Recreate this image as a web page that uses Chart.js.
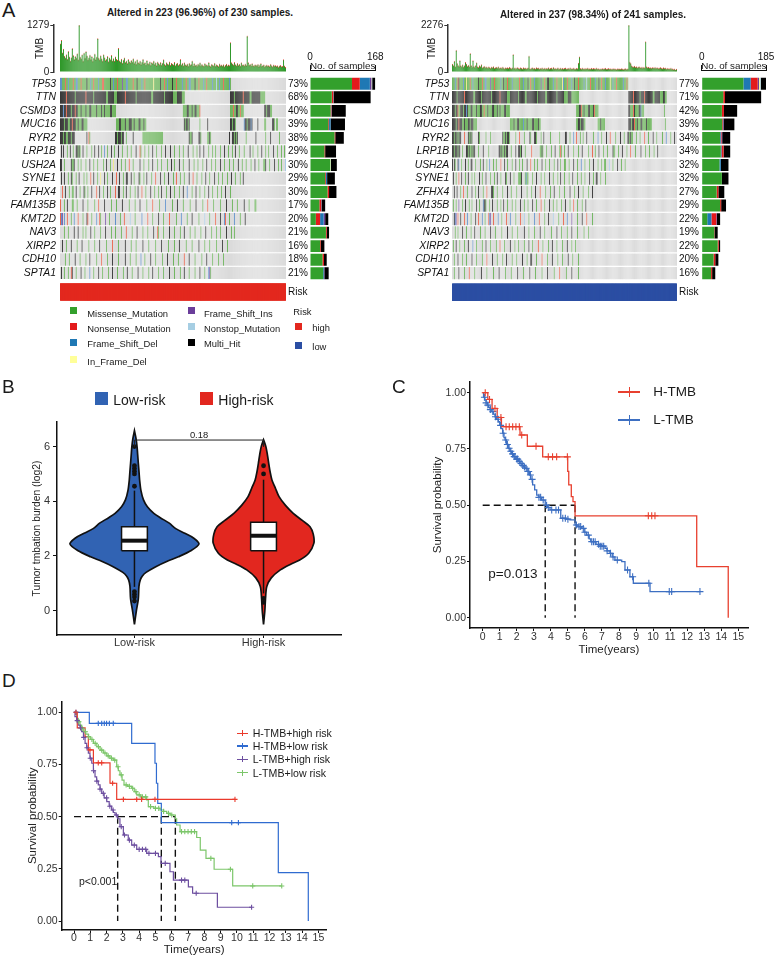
<!DOCTYPE html>
<html>
<head>
<meta charset="utf-8">
<title>TMB and risk</title>
<script src="https://cdn.jsdelivr.net/npm/chart.js@4.4.1/dist/chart.umd.min.js"></script>
<style>
  body { margin: 0; background: #fff; }
  #page { position: relative; width: 777px; height: 958px; overflow: hidden; font-family: "Liberation Sans", Arial, sans-serif; color: #1a1a1a; }
  #page canvas { position: absolute; }
  .t { position: absolute; white-space: nowrap; line-height: 1; }
  .sq { position: absolute; }
</style>
</head>
<body>
<div id="page"></div>
<script>
// ---------- panel A data ----------
const genes = ['TP53', 'TTN', 'CSMD3', 'MUC16', 'RYR2', 'LRP1B', 'USH2A', 'SYNE1', 'ZFHX4', 'FAM135B', 'KMT2D', 'NAV3', 'XIRP2', 'CDH10', 'SPTA1'];
const leftPct = ['73%', '68%', '40%', '39%', '38%', '29%', '30%', '29%', '30%', '17%', '20%', '21%', '16%', '18%', '21%'];
const rightPct = ['77%', '71%', '42%', '39%', '34%', '34%', '32%', '32%', '27%', '29%', '22%', '19%', '22%', '20%', '16%'];

// TMB per sample (same order as the matrix columns)
const leftTmb = [
  760, 860, 520, 620, 430, 380, 470, 350, 560, 410, 300, 390, 640, 450, 340, 420, 380, 500, 330, 1279,
  410, 360, 470, 300, 520, 380, 560, 440, 330, 390, 460, 350, 420, 300, 380, 490, 340, 410, 910, 380,
  330, 440, 360, 300, 470, 390, 310, 350, 420, 280, 380, 330, 450, 300, 360, 290, 410, 340, 310, 640,
  300, 270, 350, 240, 320, 380, 260, 300, 230, 340, 280, 250, 310, 270, 360, 240, 290, 220, 330, 260,
  240, 300, 210, 270, 350, 230, 260, 200, 310, 240, 220, 280, 190, 260, 230, 300, 210, 250, 180, 270,
  230, 200, 260, 190, 240, 330, 210, 180, 250, 220, 200, 270, 180, 230, 210, 190, 260, 170, 220, 240,
  180, 210, 340, 190, 230, 170, 250, 200, 180, 220, 160, 240, 190, 210, 300, 170, 230, 180, 200, 160,
  220, 190, 250, 170, 210, 180, 160, 230, 190, 200, 170, 260, 180, 150, 210, 190, 170, 240, 160, 200,
  180, 150, 220, 170, 190, 160, 200, 140, 180, 210, 160, 190, 170, 795, 250, 220, 190, 260, 200, 170,
  230, 180, 210, 160, 250, 190, 200, 170, 220, 180, 977, 260, 190, 210, 170, 230, 180, 160, 200, 190,
  170, 210, 150, 190, 230, 160, 180, 200, 140, 170, 190, 160, 180, 150, 210, 170, 140, 190, 160, 180,
  150, 170, 130, 160, 180, 140, 150, 330, 160, 120
];
const rightTmb = [
  380, 300, 520, 260, 1057, 420, 330, 280, 560, 310, 260, 350, 240, 300, 460, 380, 270, 330, 250, 895,
  310, 240, 560, 280, 230, 320, 450, 260, 220, 300, 250, 350, 210, 240, 280, 200, 260, 230, 190, 250,
  220, 180, 240, 200, 260, 170, 210, 230, 190, 250, 180, 200, 220, 170, 240, 190, 160, 210, 180, 200,
  170, 230, 190, 160, 210, 845, 180, 200, 150, 190, 220, 170, 160, 200, 180, 150, 210, 170, 190, 160,
  180, 200, 780, 170, 150, 190, 210, 160, 180, 140, 200, 170, 190, 150, 180, 160, 210, 140, 170, 190,
  150, 180, 160, 200, 140, 170, 190, 150, 220, 160, 180, 140, 170, 200, 150, 160, 190, 140, 180, 150,
  170, 190, 140, 160, 180, 150, 200, 140, 170, 160, 190, 150, 140, 180, 160, 420, 730, 170, 150, 190,
  160, 140, 180, 150, 170, 190, 140, 160, 150, 180, 140, 170, 160, 150, 190, 140, 170, 150, 130, 160,
  150, 170, 140, 160, 180, 130, 150, 170, 140, 160, 150, 130, 170, 140, 160, 150, 120, 160, 140, 150,
  130, 160, 140, 120, 150, 170, 130, 140, 160, 2276, 490, 420, 300, 260, 240, 280, 220, 250, 210, 240,
  260, 220, 200, 240, 190, 230, 210, 1463, 250, 200, 230, 190, 210, 180, 220, 200, 190, 230, 180, 200,
  210, 170, 190, 220, 180, 160, 200, 170, 190, 150, 180, 160, 170, 140, 190, 150, 160, 120, 140, 90, 130
];

// mutation matrix rows, run-length coded: M missense, N nonsense, D frame-shift del,
// I frame-shift ins, F in-frame del, S nonstop, X multi-hit, . none
const leftRows = [
  'D2 M3 N1 M2 D1 M4 N1 M2 D2 M3 N1 M5 X1 M3 D1 M2 N1 M4 D1 M3 N2 M6 X1 M2 D1 M3 N1 M4 I1 M3 D2 M5 N1 M3 X1 M4 D1 M2 N1 M8 F1 M6 X1 M3 N1 M2 D1 M4 X1 M3 N1 M5 D1 M3 N1 M2 D2 M4 X1 M3 N1 M4 D1 M2 N1 M5 D1 M3 S1 M2 D1 M3 N1 M2 M3 D1 M1',
  'X6 N1 X8 M1 X10 N1 X7 M1 X12 M2 X6 M3 X8 N1 X10 M1 X6 X9 M2 X11 M1 X8 M4 X5 M3 .46 X4 M1 X8 N1 X6 M2 X9 M5',
  'X3 D1 X2 N1 X4 M1 X3 N1 X2 M3 X1 M4 X1 M3 X2 M5 X1 M4 X1 M2 X1 M5 X2 M4 .68 M4 X2 M3 X1 M2 X2 M3 N1 .30 M3 N1 M2 X2 M2 N1 M3 .21 X2 M1 X3 M2',
  'X4 M1 X3 M2 X2 N1 X3 M2 X1 M3 X2 M4 .29 M3 X2 M4 X1 M3 X3 M2 X1 M4 X2 M3 X1 M2 .38 X1 M1 X2 M1 X1 .10 M1 .7 X1 .22 X2 M1 X2 M1 .8 D1 X2 M1 X3 D1 X1 .5 X1 .6 M2 .6 X2 M1 .1 M2 .8',
  'X3 M1 X2 M2 X3 M1 X3 .12 X1 .1 N1 M1 .25 X2 M1 X3 M1 X2 .2 M1 .6 X1 .9 M21 .26 X1 M2 X1 .6 X2 M1 .6 M2 X1 M1 .18 X1 .2 X2 M1 X1 M1 X1 .8 M1 .9 X1 .9 M1 .4 X1 .8 M1 .5',
  '.1 X1 .1 X1 .3 M1 .2 X1 .2 M1 .2 X2 M1 X1 M1 .2 X1 .3 M1 .4 M1 .2 X1 .3 X1 .2 M1 .2 D1 .2 M1 .3 X1 .2 M1 .3 X1 .3 M1 .4 M1 .3 M1 .4 X1 .3 N1 M1 .3 M1 .3 M1 .3 X1 .3 M1 .4 M1 .3 X1 .4 X1 .3 M1 .4 M1 .3 M1 .4 X1 .4 M1 .3 M1 .2 X1 .3 X1 .4 M1 .3 M1 .2 M1 .4 M1 .3 X1 .3 M1 .3 M1 .2 X1 .3 M1 .4 M1 .5 X1 .2 M1 .4 M1 .3 X1 .3 M1 .2 M1 .4 X1 .3 M1 .3 M1 .2 M1',
  'X2 .2 M1 .6 X1 M2 X1 .3 M1 .2 M1 .4 M1 .3 X1 .3 M1 .3 M1 .5 M1 .2 X1 .3 M1 .2 F1 .3 X1 .3 M1 .3 M1 .3 N1 .3 M1 .6 X1 .3 M1 .4 M1 .3 X1 .4 M1 .3 M1 .5 M1 .3 X1 .2 M1 .4 X1 .3 M1 .5 X1 .4 M1 .3 M1 .4 M1 .3 X1 .4 M1 .3 M1 .4 X1 .3 M1 .4 M1 .3 M1 .4 X1 .3 M1 .3 M1 .4 M1 .3 X1 .3 M1 .4 M2 X1 .3 M1 .4 X1 .3 M1 .2 M1 .3 S1 M1 X1',
  '.1 X1 .2 X1 .3 M1 .2 X1 M1 .3 M1 .2 X1 .4 M1 .2 M1 .3 N1 .2 X1 .3 M1 .2 F1 .3 X1 .2 M1 .4 X1 .3 N1 .2 X1 .3 M1 .2 X2 .3 X1 .2 M1 .4 X1 M1 .3 M1 .2 X1 .4 M1 .3 N1 .4 X1 .3 M1 .3 X1 .4 M1 .2 N1 .3 M1 .3 M1 .4 X1 .3 N1 .3 M1 .4 M1 .3 X1 .3 M1 .4 X1 .3 M1 .3 M1 .4 M1 .3 X1 .3 M1 .4 M1 .2 X1 .3',
  '.2 N1 .2 X1 .3 M1 .2 M2 .2 X1 .3 M1 .3 X1 M1 .2 M1 .3 X1 .4 N1 .2 X1 .3 M1 .3 X1 .2 M1 .4 N1 .2 X2 .3 M1 .2 X1 .3 M1 .4 M1 .2 X1 .3 N1 .3 M1 .4 X1 .3 M1 .3 M1 .2 X1 .4 M1 .3 X1 .3 M1 .4 M1 .3 X1 .3 D1 .4 M1 .3 X1 .3 M1 .4 M1 .3 X1 .3 M1 .4 M1 .3 M1 .3 X1 .4 M1 .3',
  'N1 .3 M1 .2 X1 .4 M2 .3 M1 .5 X1 .4 M1 .6 M1 .3 N1 .5 X1 .6 M1 .4 M1 .5 X1 .6 M1 .5 M1 .4 X1 .6 M1 .5 N1 .6 M1 .5 D1 .6 M1 .4 X1 .5 M1 .6 M1 .5 X1 .6 M1 .4 N1 .5 M1 .6 M1 .5 X1 .5 M1 .4 M1 .6 X1 .4 M1 .5 M2',
  'N1 D1 I1 .1 D1 .2 N1 .3 M1 .2 D1 .3 N1 .4 M1 .3 X1 N1 .3 M1 .4 D1 .2 N1 M1 .4 I1 .3 M1 .5 D1 .4 M1 .3 N1 .5 S1 .4 M1 .6 D1 .5 N1 .4 M1 .5 X1 .4 M1 .5 N1 .6 M1 .4 D1 .5 M1 .4 X1 .6 M1 .5 S1 .4 M1 .5 N1 .4 X1 .3 D1 N1 .3 M1 .4 D1 .5 M1 .4 X1',
  '.4 M1 .3 M1 .5 X1 .3 X1 .4 M1 .2 M1 .4 X1 .3 M1 .5 M1 .4 X1 .5 M1 .3 M1 .5 M1 .4 N1 .5 M1 .4 X1 .5 M1 .4 M1 .5 X1 .3 N1 M1 .4 M1 .5 X1 .4 M1 .5 M1 .3 X1 .5 M1 .4 M1 .5 M1 .4 X1 .5 M1 .4 M1 .3 M1 .5 X1 .4 M1 .2 M1',
  '.2 X1 .3 M1 .4 X1 .5 M1 .4 X1 .6 M1 .5 M1 .4 X1 .6 M1 .5 N1 .5 M1 .6 X1 .5 M1 .4 M1 .6 X1 .5 M1 .6 M1 .5 X1 .6 M1 .5 M1 .4 X1 .6 M1 .5 M1 .6 X1 .5 M1 .4 M1 .6 M1 .5 X1 .4 M1',
  '.5 M1 .3 M1 .5 X1 .4 M1 .5 M1 .3 X1 .6 M1 .4 N1 .5 M1 .4 X1 .5 M1 .6 X1 .4 M1 .5 M1 .4 D1 .3 M1 .5 X1 .4 M1 .6 M1 .4 X1 .5 M1 .4 M1 .5 N1 .4 X1 .5 M1 .6 M1 .4 X1 .5 M1 .5 M1 .4 M1',
  '.1 X1 .2 M1 .3 M1 .2 N1 X1 .3 M1 .4 X1 .3 M1 .4 D1 .3 M1 .4 X1 .3 M1 .5 M1 .3 X1 .4 M1 .5 M1 .3 X1 .4 M1 .5 X1 .4 M1 .5 M1 .3 X1 .5 M1 .4 M1 .5 X1 .4 M1 .5 M1 .3 X1 .4 M1 .5 M1 .4 X1 .4 M1 .3 D1 I1 M1'
];
const rightRows = [
  'M3 D1 M2 N1 X1 M4 D1 M2 F1 M3 N1 M2 D1 M5 X1 M3 N1 M2 D2 M4 I1 M3 N1 M6 D1 M2 X1 M3 N1 M4 D1 M2 M5 N1 M3 D1 M4 X1 M2 N1 M3 D1 M6 I1 M3 N1 M2 X2 M4 D1 M3 N1 M5 F1 D1 M3 N1 M4 D1 M2 X1 M3 N1 M5 D1 M2 S1 M3 N1 M4 D1 M3 X1 M2 N1 M3 D1 M4 F1 M2 D1 M3 N1 M2 M4 D1 M3 N1 M1',
  'X5 M1 X7 N1 X9 M2 X6 M1 X10 M1 X8 N1 X7 M3 X9 M1 X6 M2 X11 M1 X8 M2 X10 M1 X7 M4 X4 M2 M6 .53 X5 N1 X6 M1 X4 N1 X8 M2 X6 M3 X2 M2',
  'X3 M1 X2 N1 M2 X3 M1 X2 D1 X1 M3 X2 M4 X1 M3 X2 M2 N1 M3 X1 M4 X2 M3 X1 M2 X1 M4 X2 M4 .71 M3 X2 N1 M2 X1 M4 X2 M3 X1 N1 M4 .32 X2 M3 N1 X1 M4 X2 D1 M3 .21 M1 .12',
  'X4 M1 X2 N1 X3 M2 X1 M3 X2 M1 X3 M4 .35 M4 X1 M3 X2 M4 D1 M3 X1 M5 X2 M4 X1 M2 .38 M2 X2 M1 X3 M2 .13 M3 X1 M4 .25 X3 M1 X2 N1 M2 X1 M3 X2 M4 X1 M3 M2 .14 M1 .12',
  'X2 M1 X2 M1 X1 M1 X2 .3 N1 .3 X1 M1 X1 M1 X1 .6 X1 M1 .6 M1 .4 M1 .12 X1 M2 X1 M1 X2 M1 .6 M1 .3 N1 .4 M1 .5 X1 M1 .3 X2 M1 .4 M1 .2 X1 .6 M1 .9 M1 .5 X2 .3 M1 .3 D1 .2 N1 .3 M1 .2 M1 .3 X1 .6 M1 .4 D1 .3 M1 .4 X1 .3 N1 .5 M1 .4 X1 .3 M1 .3 X2 M1 X1 M2 .3 M1 .3 M1 .4 N1 .3 M1 .4 X1 .3 M1 .5 M1 .3 D1 .4 M1 .3 X1 .4 M1 .5 M1 .3',
  'X2 M1 X3 M1 X2 .2 M1 .3 X2 M1 X1 M2 X1 M1 X2 .3 M1 .4 X1 .5 M1 .10 X2 M1 X1 M2 X1 M1 X2 .3 M1 .4 X1 .2 X2 M1 X1 .3 M1 .6 N1 .8 M2 X1 M1 .3 M1 .4 M1 .3 X1 .4 M1 N1 M1 .2 M1 .3 X1 .5 M1 .4 M1 .3 X1 .6 M1 .3 N1 .2 M1 .3 X1 .4 M1 .3 M1 .5 X1 M2 .3 M1 .3 X1 .4 M1 .3 N1 .4 M1 .5 X1 .4 M1 .3 M1 .4 M1 .3 X1 .2',
  'X1 .1 X1 M1 .2 X1 D1 .2 M1 .3 X1 .2 M1 .2 X2 .3 M1 .4 M1 .2 X1 .3 M1 .2 D1 .3 M1 .2 M1 .4 N1 .3 X1 .2 M1 .4 M1 .3 X1 .3 M1 .2 M1 .4 X1 .3 N1 .3 M1 .2 M1 .4 X1 .3 M1 .3 M1 .4 M1 .3 X1 .2 M1 .3 M2 .3 M1 .4 X1 .3 M1 .3 D1 .3 M1 .4 M1 .3 X1 .4 M1 .3 M1 .2 M2 .3 S1 .3 M1 .4 X1 .3 M1 .3 M1 .2',
  '.1 X1 .2 M1 .2 N1 .2 X1 .3 M1 .2 X1 .3 M1 .2 M1 .4 X1 .2 M1 .3 X1 .4 M1 .3 M1 .2 X1 .3 M1 .4 X1 M1 .3 X1 .3 M1 .4 M1 M2 X1 .3 M1 D1 M2 .4 M1 .3 X1 .4 M1 .3 M1 .4 X1 .3 M1 .4 M1 .2 X1 .3 M1 .4 M1 .3 X1 .4 M1 .3 M1 .3 M1 .4 X1 .3 M1 .2 X2 .3 M1 .4 M1 .3',
  '.2 X1 .2 X1 .3 M1 .2 N1 .3 M1 .4 X1 .3 M1 .2 X1 .4 M1 .3 N1 .4 X2 M1 .3 M1 .5 M1 .4 X1 .3 M1 .5 M1 .4 X1 .5 M1 .4 M1 .3 X1 .4 N1 .5 M1 .4 M1 .3 X1 .5 M1 .4 M1 .5 X1 .4 M1 .3 X1 .4 M1 .5 M1 .3 X1 .4',
  '.1 M1 .2 M1 .2 I1 .3 M1 .2 X1 .3 M1 .2 M1 .4 X1 .2 M1 .3 D1 X2 M1 .3 M1 .2 X1 .4 M1 .3 M1 .2 X1 .3 M1 .4 M1 .3 M1 .4 X1 .3 M1 .3 M1 .4 X1 .3 M1 .4 N1 .3 M1 .4 X1 .3 M1 .3 M1 .4 M1 .3 X1 .4 M1 .3 N1 .3 M1 .4 M1 .3 X1 .3',
  '.2 X1 D1 I1 .1 N1 .2 X1 .3 N1 .2 D1 .3 M1 .4 X1 .2 N1 .3 D1 .2 M1 .3 N1 D1 I1 .2 N1 .4 D1 .3 M1 .4 N1 .3 D1 .5 M1 .4 N1 .3 S1 .4 M1 .5 D1 .4 N1 .5 M1 .3 X1 .4 S1 .5 M1 .4 N1 .3 D1 .4 I1 .5 M1 .4 X1 .4 N1 .5 M1',
  '.3 M1 .2 M1 .4 X1 .3 M1 .4 M1 .3 X1 .5 M1 .4 M1 .5 X1 .4 M1 .6 M1 .5 X1 .4 M1 .5 M1 .6 X1 .4 M1 .5 M1 .5 X1 .4 M1 .6 M1 .5 X1 .4 M1 .5 M1 .4 X1 .5 M1 .6 M1 .4 M1',
  '.1 M1 .2 X1 .3 M1 .4 M1 .3 X1 .4 D1 .3 M1 .5 M1 .3 X1 .4 M1 .5 M1 .3 N1 .4 M1 .5 X1 .4 M1 .3 M1 .5 M1 .4 X1 .3 M1 .5 N1 .4 M1 .5 M1 .3 X1 .4 M1 .5 M1 .4 X1 .4 M1 .3 M1',
  '.2 M1 .3 X1 .4 M1 .3 M1 .5 X1 .4 M1 .5 M1 .4 N1 .5 X1 .4 M1 .5 M1 .3 X1 .5 M1 .4 M1 .5 X1 .4 M1 .3 X2 .4 M1 .5 N1 .5 M1 .4 X1 .5 M1 .4 M1 .5 X1 .4 M1 .5 M1',
  '.2 M1 .4 X1 .5 M1 .4 N1 .5 M1 .6 X1 .5 M1 .6 M1 .5 X1 .6 M1 .5 M1 .6 X1 .5 M1 .6 X1 .5 M1 .6 M1 .5 X1 .6 M1 .5 N1 .6 M1 .5 X1 .6 M1'
];

// "No. of samples" per gene, split by variant class
const leftMis = [108, 56, 53, 47, 63, 37, 52, 39, 45, 24, 15, 41, 26, 32, 34];
const leftNon = [20, 4, 2, 2, 2, 2, 0, 2, 4, 5, 11, 2, 2, 4, 0];
const leftDel = [26, 1, 1, 4, 0, 0, 0, 3, 0, 1, 9, 0, 0, 0, 2];
const leftIns = [4, 0, 0, 0, 0, 0, 0, 0, 0, 0, 4, 0, 0, 0, 1];
const leftInf = [1, 0, 0, 0, 0, 0, 1, 0, 0, 0, 0, 0, 0, 0, 0];
const leftNst = [1, 0, 0, 0, 0, 0, 1, 0, 0, 0, 0, 0, 0, 0, 0];
const leftMul = [8, 95, 36, 37, 22, 28, 15, 20, 19, 9, 8, 6, 9, 7, 11];
const rightMis = [120, 62, 58, 59, 53, 55, 51, 58, 43, 53, 16, 36, 46, 34, 27];
const rightDel = [21, 0, 0, 0, 2, 2, 4, 0, 0, 0, 12, 0, 0, 0, 0];
const rightNon = [20, 5, 6, 2, 2, 6, 0, 0, 5, 3, 14, 1, 3, 5, 3];
const rightIns = [4, 0, 0, 2, 2, 0, 0, 0, 0, 0, 2, 0, 0, 0, 0];
const rightInf = [3, 0, 0, 0, 0, 0, 0, 0, 0, 0, 0, 0, 0, 0, 0];
const rightNst = [2, 0, 0, 0, 0, 0, 0, 0, 0, 0, 0, 0, 0, 0, 0];
const rightMul = [15, 104, 38, 31, 23, 19, 22, 19, 17, 14, 9, 9, 4, 9, 9];

// ---------- panel B data ----------
const riskGroups = ['Low-risk', 'High-risk'];
const lowVY = [-0.5, 0.0, 0.43, 0.9, 1.12, 1.26, 1.4, 1.61, 1.8, 1.97, 2.2, 2.44, 2.65, 2.83, 3.0, 3.2, 3.4, 3.56, 3.8, 4.05, 4.4, 4.78, 5.1, 5.39, 5.7, 6.0, 6.3, 6.58];
const lowVW = [0, 0.015, 0.03, 0.035, 0.045, 0.06, 0.09, 0.165, 0.25, 0.34, 0.44, 0.5, 0.46, 0.39, 0.32, 0.27, 0.2, 0.15, 0.1, 0.07, 0.05, 0.04, 0.035, 0.03, 0.025, 0.02, 0.012, 0];
const highVY = [-0.5, 0.0, 0.43, 0.88, 1.2, 1.49, 1.7, 1.85, 2.1, 2.47, 2.8, 3.07, 3.3, 3.56, 3.85, 4.17, 4.5, 4.78, 5.1, 5.39, 5.7, 6.0, 6.25];
const highVW = [0, 0.01, 0.015, 0.025, 0.06, 0.13, 0.21, 0.28, 0.35, 0.39, 0.385, 0.36, 0.3, 0.23, 0.17, 0.12, 0.09, 0.065, 0.05, 0.04, 0.03, 0.018, 0];
const lowBox = [0.87, 2.19, 2.56, 3.07, 4.39];   // whisker lo, q1, median, q3, whisker hi
const highBox = [0.63, 2.19, 2.74, 3.23, 4.79];
const lowOut = [0.35, 0.5, 0.6, 0.7, 4.55, 5.0, 5.1, 5.2, 5.3, 6.0];
const highOut = [0.3, 0.45, 5.0, 5.3];

// ---------- panel C data ----------
const hTmbT = [0, 0.3, 0.55, 0.85, 1.1, 2.19, 2.62, 3.52, 4.99, 5.05, 5.2, 5.3, 5.42, 12.56, 14.41];
const hTmbS = [1, 0.97, 0.93, 0.89, 0.849, 0.812, 0.762, 0.715, 0.65, 0.59, 0.538, 0.516, 0.453, 0.227, 0];
const hTmbCens = [0.15, 0.4, 0.72, 1.07, 1.37, 1.56, 1.76, 1.95, 2.15, 2.29, 3.13, 3.85, 4.1, 4.34, 4.97, 9.72, 9.92, 10.11];
const lTmbT = [0, 0.05, 0.13, 0.2, 0.28, 0.35, 0.43, 0.53, 0.62, 0.72, 0.82, 0.92, 1.0, 1.08, 1.17, 1.25, 1.31, 1.4, 1.5, 1.6, 1.7, 1.8, 1.95, 2.1, 2.19, 2.3, 2.4, 2.48, 2.6, 2.74, 2.82, 2.93, 3.05, 3.17, 3.3, 3.46, 3.67, 3.8, 3.95, 4.58, 4.9, 5.12, 5.42, 5.6, 5.81, 5.95, 6.1, 6.25, 6.34, 6.65, 6.9, 7.18, 7.3, 7.47, 7.6, 7.76, 8.16, 8.35, 8.64, 8.84, 9.82, 12.75];
const lTmbS = [1, 0.98, 0.968, 0.955, 0.945, 0.935, 0.925, 0.916, 0.905, 0.893, 0.882, 0.871, 0.855, 0.84, 0.82, 0.8, 0.79, 0.77, 0.753, 0.74, 0.728, 0.716, 0.705, 0.695, 0.686, 0.677, 0.67, 0.664, 0.65, 0.634, 0.615, 0.59, 0.568, 0.545, 0.535, 0.523, 0.5, 0.49, 0.479, 0.442, 0.438, 0.435, 0.412, 0.405, 0.397, 0.38, 0.367, 0.35, 0.338, 0.326, 0.318, 0.308, 0.297, 0.286, 0.27, 0.256, 0.249, 0.212, 0.182, 0.153, 0.116, 0.116];
const lTmbCens = [0.1, 0.2, 0.3, 0.45, 0.6, 0.75, 0.9, 1.05, 1.2, 1.35, 1.45, 1.55, 1.65, 1.75, 1.85, 1.9, 2.0, 2.05, 2.15, 2.25, 2.35, 2.45, 2.55, 2.65, 2.7, 2.8, 2.9, 3.3, 3.4, 3.55, 3.75, 3.85, 4.05, 4.3, 4.45, 4.7, 4.85, 5.0, 5.5, 5.65, 5.75, 5.9, 6.0, 6.2, 6.4, 6.5, 6.6, 6.8, 6.9, 7.0, 7.1, 7.3, 7.5, 7.65, 7.9, 8.5, 8.8, 9.75, 10.95, 11.09, 12.75];
const medC = [3.67, 5.42];

// ---------- panel D data ----------
const hhT = [0, 0.2, 0.68, 0.88, 1.19, 2.21, 2.62, 9.88];
const hhS = [1, 0.925, 0.883, 0.82, 0.758, 0.66, 0.583, 0.583];
const hhCens = [0.12, 0.98, 1.49, 1.7, 2.37, 3.03, 3.85, 4.15, 4.97, 9.88];
const hlT = [0, 0.94, 3.54, 4.97, 5.06, 5.14, 5.36, 12.54, 14.38];
const hlS = [1, 0.947, 0.851, 0.756, 0.66, 0.564, 0.471, 0.232, 0];
const hlCens = [0.12, 1.49, 1.7, 1.86, 2.0, 2.17, 2.41, 9.68, 10.09];
const lhT = [0, 0.06, 0.16, 0.26, 0.37, 0.47, 0.58, 0.68, 0.78, 0.88, 0.98, 1.09, 1.19, 1.29, 1.39, 1.49, 1.6, 1.7, 1.85, 2.01, 2.16, 2.31, 2.42, 2.52, 2.68, 2.82, 3.03, 3.33, 3.54, 3.85, 4.46, 5.18, 5.34, 5.89, 6.1, 7.02, 7.28, 8.8, 10.9];
const lhS = [1, 0.979, 0.96, 0.939, 0.925, 0.907, 0.88, 0.851, 0.83, 0.804, 0.78, 0.756, 0.72, 0.691, 0.67, 0.652, 0.632, 0.612, 0.59, 0.572, 0.55, 0.532, 0.52, 0.508, 0.49, 0.452, 0.412, 0.388, 0.364, 0.343, 0.324, 0.308, 0.276, 0.236, 0.196, 0.164, 0.133, 0.066, 0.066];
const lhCens = [0.2, 0.4, 0.6, 0.8, 1.0, 1.2, 1.4, 1.6, 1.8, 2.0, 2.2, 2.4, 2.6, 2.9, 3.1, 3.4, 3.7, 4.0, 4.2, 4.4, 4.6, 5.0, 5.6, 6.6, 6.8, 7.5, 10.9];
const llT = [0, 0.16, 0.26, 0.37, 0.47, 0.57, 0.72, 0.88, 1.0, 1.19, 1.4, 1.6, 1.8, 2.01, 2.2, 2.41, 2.62, 2.72, 2.82, 2.95, 3.07, 3.3, 3.54, 3.7, 3.85, 4.1, 4.46, 4.56, 4.9, 5.28, 5.5, 5.69, 5.9, 6.22, 6.3, 6.51, 7.53, 7.75, 8.1, 8.6, 9.74, 12.75];
const llS = [1, 0.971, 0.955, 0.939, 0.923, 0.907, 0.895, 0.883, 0.87, 0.851, 0.835, 0.819, 0.805, 0.791, 0.78, 0.771, 0.739, 0.72, 0.7, 0.675, 0.652, 0.645, 0.636, 0.62, 0.604, 0.595, 0.58, 0.548, 0.54, 0.532, 0.525, 0.516, 0.508, 0.49, 0.46, 0.428, 0.4, 0.34, 0.3, 0.248, 0.168, 0.168];
const llCens = [0.3, 0.5, 0.7, 0.9, 1.1, 1.3, 1.5, 1.7, 1.9, 2.1, 2.3, 2.5, 2.7, 2.9, 3.2, 3.4, 3.6, 3.8, 4.0, 4.2, 4.4, 4.7, 5.0, 5.2, 5.5, 5.8, 6.0, 6.6, 6.8, 7.0, 7.2, 7.4, 8.4, 9.6, 10.97, 12.75];
const medD = [2.68, 5.36, 6.22];

const timeTicks = [0, 1, 2, 3, 4, 5, 6, 7, 8, 9, 10, 11, 12, 13, 14, 15];
const survTicks = [0, 0.25, 0.5, 0.75, 1];

// ---------- setup ----------
const page = document.getElementById('page');
Chart.defaults.font.family = '"Liberation Sans", Arial, sans-serif';
Chart.defaults.color = '#222';
Chart.defaults.animation = false;
Chart.defaults.responsive = false;
Chart.defaults.events = [];
Chart.defaults.plugins.legend.display = false;
Chart.defaults.plugins.tooltip.enabled = false;

const cellColor = { '.': '#dadada', M: '#6bb35a', N: '#e8644c', D: '#5e8fca', I: '#7b58a6', F: '#eee88c', S: '#a8cbe5', X: '#353535' };
const typeColor = { M: '#33a02c', N: '#e31a1c', D: '#1f78b4', I: '#6a3d9a', F: '#ffff99', S: '#a6cee3', X: '#000000' };

function mk(left, top, w, h) {
  const c = document.createElement('canvas');
  c.width = w; c.height = h;
  c.style.left = left + 'px';
  c.style.top = top + 'px';
  page.appendChild(c);
  return c;
}

function label(s, x, cy, size, o = {}) {
  const d = document.createElement('div');
  d.className = 't';
  d.textContent = s;
  d.style.fontSize = size + 'px';
  d.style.top = (cy - 0.49 * size) + 'px';
  d.style.left = x + 'px';
  if (o.center) d.style.transform = 'translateX(-50%)';
  if (o.bold) d.style.fontWeight = 'bold';
  if (o.color) d.style.color = o.color;
  page.appendChild(d);
}

function box(x, y, w, h, color) {
  const d = document.createElement('div');
  d.className = 'sq';
  d.style.left = x + 'px'; d.style.top = y + 'px';
  d.style.width = w + 'px'; d.style.height = h + 'px';
  d.style.background = color;
  page.appendChild(d);
}

function expand(rle, n) {
  const out = [];
  rle.trim().split(/\s+/).forEach(tok => {
    const k = parseInt(tok.slice(1), 10) || 1;
    for (let j = 0; j < k; j++) out.push(tok[0]);
  });
  while (out.length < n) out.push('.');
  return out.slice(0, n);
}

const ticksAt = vals => s => { s.ticks = vals.map(v => ({ value: v })); };

// ---------- panel A ----------
const ROW_GAP = 0.3, RISK_H = 1.26;
const MAT_MAX = genes.length + ROW_GAP + RISK_H;

function oncoplot(p) {
  const n = p.tmb.length;
  const pxPer = (p.matR - p.matL) / n;

  // TMB bars on top
  const tw = Math.round(p.matR + 4 - p.tmbLeft);
  new Chart(mk(p.tmbLeft, 18, tw, 61), {
    type: 'bar',
    data: { datasets: [{
      data: p.tmb.map((v, i) => ({ x: i, y: v })),
      backgroundColor: '#2b9626', borderColor: '#e8433a',
      borderWidth: { top: 1, right: 0, bottom: 0, left: 0 }, borderSkipped: false,
      barPercentage: 1, categoryPercentage: 1, inflateAmount: 0.5
    }] },
    options: {
      layout: { padding: { top: 7, bottom: 7, right: p.tmbLeft + tw - p.matR, left: 0 } },
      scales: {
        x: { type: 'linear', display: false, offset: false, min: -0.5 - (p.matL - p.tmbAxis) / pxPer, max: n - 0.5 },
        y: {
          min: 0, max: p.tmbMax,
          afterFit: s => { s.width = p.tmbAxis - p.tmbLeft; },
          afterBuildTicks: ticksAt([0, p.tmbMax]),
          ticks: { font: { size: 10 }, color: '#222', padding: 1, callback: v => String(v) },
          grid: { drawOnChartArea: false, tickLength: 3, color: '#333' },
          border: { color: '#333', width: 1.5 },
          title: { display: true, text: 'TMB', font: { size: 10 }, color: '#222', padding: { top: 14, bottom: 0 } }
        }
      }
    }
  });

  // mutation matrix + risk annotation
  const cols = p.rows.map(r => expand(r, n).map(c => cellColor[c]));
  const idx = p.tmb.map((v, i) => i);
  const datasets = genes.map((g, gi) => ({
    data: idx.map(i => ({ x: i, y: 1 })),
    backgroundColor: cols[gi], borderColor: '#ffffff',
    borderWidth: { top: 1, bottom: 1, left: 0, right: 0 }, borderSkipped: false, inflateAmount: 0.42
  }));
  datasets.push({ data: idx.map(i => ({ x: i, y: ROW_GAP })), backgroundColor: 'rgba(0,0,0,0)', borderWidth: 0 });
  datasets.push({ data: idx.map(i => ({ x: i, y: RISK_H })), backgroundColor: p.riskColor, borderWidth: 0, inflateAmount: 0.5 });
  const rightLabels = p.pct.concat(['Risk']);
  const rightTicks = genes.map((g, i) => i + 0.5).concat([genes.length + ROW_GAP + RISK_H / 2]);
  const matW = p.matCanvasR - p.matCanvasL;
  new Chart(mk(p.matCanvasL, 67, matW, 244), {
    type: 'bar',
    data: { datasets },
    options: {
      datasets: { bar: { barPercentage: 1, categoryPercentage: 1 } },
      layout: { padding: { top: 10, bottom: 10, left: 0, right: 0 } },
      scales: {
        x: { type: 'linear', display: false, offset: false, stacked: true, min: -0.5, max: n - 0.5 },
        y: {
          type: 'linear', stacked: true, reverse: true, min: 0, max: MAT_MAX, position: 'left',
          afterFit: s => { s.width = p.matL - p.matCanvasL; },
          afterBuildTicks: ticksAt(genes.map((g, i) => i + 0.5)),
          ticks: { callback: (v, i) => genes[i], font: { size: 10.4, style: 'italic' }, color: '#111', padding: p.geneGap, autoSkip: false },
          grid: { display: false, drawTicks: false }, border: { display: false }
        },
        y2: {
          type: 'linear', reverse: true, min: 0, max: MAT_MAX, position: 'right',
          afterFit: s => { s.width = p.matCanvasR - p.matR; },
          afterBuildTicks: ticksAt(rightTicks),
          ticks: { callback: (v, i) => rightLabels[i], font: { size: 10 }, color: '#111', padding: 2, autoSkip: false },
          grid: { display: false, drawTicks: false }, border: { display: false }
        }
      }
    }
  });

  // No. of samples per gene
  const bw = p.barW;
  const cw = Math.min(777 - p.barCanvasL, Math.round(bw + 20));
  new Chart(mk(p.barCanvasL, 48, cw, 232), {
    type: 'bar',
    data: { datasets: p.order.map(t => ({
      data: p.counts[t].map((v, i) => ({ x: v, y: i })),
      backgroundColor: typeColor[t], borderWidth: 0, barPercentage: 0.88, categoryPercentage: 1
    })) },
    options: {
      indexAxis: 'y',
      layout: { padding: { left: p.barL - p.barCanvasL, right: cw - (p.barL - p.barCanvasL) - bw, top: 0, bottom: 0 } },
      scales: {
        x: {
          position: 'top', stacked: true, min: 0, max: p.barMax,
          afterFit: s => { s.height = 22; },
          afterBuildTicks: ticksAt([0, p.barMax]),
          ticks: { font: { size: 10 }, color: '#111', padding: 2 },
          grid: { drawOnChartArea: false, tickLength: 5, color: '#111' },
          border: { color: '#111', width: 1 }
        },
        y: { type: 'linear', display: false, offset: false, stacked: true, reverse: true, min: -1.017, max: 14.5 }
      }
    }
  });

  label('No. of samples', p.barL + bw / 2, 65.5, 9.8, { center: true });
}

oncoplot({
  tmb: leftTmb, rows: leftRows, pct: leftPct, tmbMax: 1279,
  tmbLeft: 20, tmbAxis: 53.3, matL: 60, matR: 286, matCanvasL: 0, matCanvasR: 312, geneGap: 4,
  barCanvasL: 305, barL: 310, barW: 65.3, barMax: 168, riskColor: '#e3281e',
  order: ['M', 'N', 'D', 'I', 'F', 'S', 'X'],
  counts: { M: leftMis, N: leftNon, D: leftDel, I: leftIns, F: leftInf, S: leftNst, X: leftMul }
});
oncoplot({
  tmb: rightTmb, rows: rightRows, pct: rightPct, tmbMax: 2276,
  tmbLeft: 412, tmbAxis: 447.3, matL: 452, matR: 677, matCanvasL: 400, matCanvasR: 702, geneGap: 2.7,
  barCanvasL: 696, barL: 701.7, barW: 64.3, barMax: 185, riskColor: '#2b4ea3',
  order: ['M', 'D', 'N', 'I', 'F', 'S', 'X'],
  counts: { M: rightMis, N: rightNon, D: rightDel, I: rightIns, F: rightInf, S: rightNst, X: rightMul }
});

// ---------- panel B (violins) ----------
function violin(c, VY, VW) {
  const left = VY.map((y, i) => ({ x: c - VW[i], y }));
  const right = VY.map((y, i) => ({ x: c + VW[i], y })).reverse();
  return left.concat(right);
}
function boxShape(c, b, hw) {
  return [{ x: c - hw, y: b[1] }, { x: c + hw, y: b[1] }, { x: c + hw, y: b[3] }, { x: c - hw, y: b[3] }, { x: c - hw, y: b[1] }];
}
const violinBlue = '#3163b3', violinRed = '#e2271f';
const bSets = [];
[[1, lowVY, lowVW, lowBox, lowOut, violinBlue], [2, highVY, highVW, highBox, highOut, violinRed]].forEach(([c, VY, VW, b, outl, col]) => {
  bSets.push({ data: violin(c, VY, VW), fill: 'shape', backgroundColor: col, borderColor: '#111', borderWidth: 1.7, tension: 0.3, pointRadius: 0, order: 6 });
  bSets.push({ data: [{ x: c, y: b[0] }, { x: c, y: b[4] }], borderColor: '#111', borderWidth: 1.5, pointRadius: 0, order: 5 });
  bSets.push({ data: outl.map(y => ({ x: c, y })), showLine: false, pointRadius: 2.4, pointBackgroundColor: '#111', pointBorderWidth: 0, order: 4 });
  bSets.push({ data: boxShape(c, b, 0.1), fill: 'shape', backgroundColor: '#ffffff', borderColor: '#111', borderWidth: 1.5, pointRadius: 0, order: 3 });
  bSets.push({ data: [{ x: c - 0.1, y: b[2] }, { x: c + 0.1, y: b[2] }], borderColor: '#111', borderWidth: 4, pointRadius: 0, order: 2 });
});
bSets.push({ data: [{ x: 1, y: 6.0 }, { x: 1, y: 6.24 }, { x: 2, y: 6.24 }, { x: 2, y: 6.0 }], borderColor: '#222', borderWidth: 1, pointRadius: 0, order: 1 });

new Chart(mk(20, 380, 340, 280), {
  type: 'line',
  data: { datasets: bSets },
  options: {
    layout: { padding: { top: 42, right: 19, left: 0, bottom: 0 } },
    scales: {
      x: {
        type: 'linear', min: 0.4, max: 2.6,
        afterBuildTicks: ticksAt([1, 2]), afterFit: s => { s.height = 25; },
        ticks: { callback: (v, i) => riskGroups[i], font: { size: 11 }, color: '#333', padding: -2 },
        grid: { drawOnChartArea: false, tickLength: 3, color: '#111' },
        border: { color: '#111', width: 1.5 }
      },
      y: {
        min: -0.89, max: 6.9,
        afterBuildTicks: ticksAt([0, 2, 4, 6]), afterFit: s => { s.width = 37; },
        ticks: { font: { size: 11 }, color: '#333', padding: 3 },
        grid: { drawOnChartArea: false, tickLength: 4, color: '#111' },
        border: { color: '#111', width: 1.5 },
        title: { display: true, text: 'Tumor tmbation burden (log2)', font: { size: 10.3 }, color: '#222', padding: { top: 11, bottom: 0 } }
      }
    }
  }
});

// ---------- panels C and D (Kaplan-Meier) ----------
function survAt(T, S, t) {
  let s = S[0];
  for (let i = 0; i < T.length; i++) if (T[i] <= t) s = S[i];
  return s;
}
function stepSet(T, S, color, w) {
  return { data: T.map((t, i) => ({ x: t, y: S[i] })), borderColor: color, borderWidth: w, stepped: 'before', pointRadius: 0, fill: false, order: 2 };
}
function censorSet(T, S, times, color, r) {
  return { data: times.map(t => ({ x: t, y: survAt(T, S, t) })), showLine: false, pointStyle: 'cross', pointRadius: r, pointBorderColor: color, pointBackgroundColor: color, pointBorderWidth: 1.1, order: 1 };
}
function medianSets(med) {
  const dash = { borderColor: '#111', borderWidth: 1.4, borderDash: [7, 4], pointRadius: 0, order: 3 };
  const out = [Object.assign({ data: [{ x: 0, y: 0.5 }, { x: Math.max(...med), y: 0.5 }] }, dash)];
  med.forEach(m => out.push(Object.assign({ data: [{ x: m, y: 0.5 }, { x: m, y: 0 }] }, dash)));
  return out;
}
function kmChart(cv, o) {
  return new Chart(cv, {
    type: 'line',
    data: { datasets: o.datasets },
    options: {
      layout: { padding: o.pad },
      scales: {
        x: {
          type: 'linear', min: o.xMin, max: o.xMax,
          afterBuildTicks: ticksAt(timeTicks), afterFit: s => { s.height = o.xH; },
          ticks: { font: { size: 10.5 }, color: '#333', padding: o.xTickPad, maxRotation: 0, autoSkip: false },
          grid: { drawOnChartArea: false, tickLength: 3, color: '#111' },
          border: { color: '#111', width: 1.5 },
          title: { display: true, text: 'Time(years)', font: { size: 11.5 }, color: '#222', padding: { top: 0, bottom: o.xTitlePad } }
        },
        y: {
          min: o.yMin, max: o.yMax,
          afterBuildTicks: ticksAt(survTicks), afterFit: s => { s.width = o.yW; },
          ticks: { font: { size: 10.5 }, color: '#333', padding: 1, callback: v => v.toFixed(2) },
          grid: { drawOnChartArea: false, tickLength: 3, color: '#111' },
          border: { color: '#111', width: 1.5 },
          title: { display: true, text: 'Survival probability', font: { size: 11.5 }, color: '#222', padding: { top: o.yTitlePad, bottom: 0 } }
        }
      }
    }
  });
}

const cRed = '#e8402f', cBlue = '#3d6fc2';
kmChart(mk(425, 374, 352, 286), {
  datasets: [
    censorSet(hTmbT, hTmbS, hTmbCens, cRed, 3.5),
    censorSet(lTmbT, lTmbS, lTmbCens, cBlue, 3.5),
    stepSet(hTmbT, hTmbS, cRed, 1.3),
    stepSet(lTmbT, lTmbS, cBlue, 1.3)
  ].concat(medianSets(medC)),
  pad: { top: 8, right: 29, left: 0, bottom: 0 },
  xMin: -0.745, xMax: 15.57, yMin: -0.0458, yMax: 1.0476,
  xH: 32, yW: 45, xTickPad: 0, xTitlePad: 3.1, yTitlePad: 6.1
});

const dRed = '#ea3a2c', dBlue = '#2f6bd0', dPurple = '#6d4fa0', dGreen = '#7cc66a';
kmChart(mk(15, 694, 330, 264), {
  datasets: [
    censorSet(hhT, hhS, hhCens, dRed, 2.6),
    censorSet(hlT, hlS, hlCens, dBlue, 2.6),
    censorSet(lhT, lhS, lhCens, dPurple, 2.6),
    censorSet(llT, llS, llCens, dGreen, 2.6),
    stepSet(hhT, hhS, dRed, 1.2),
    stepSet(hlT, hlS, dBlue, 1.2),
    stepSet(lhT, lhS, dPurple, 1.2),
    stepSet(llT, llS, dGreen, 1.2)
  ].concat(medianSets(medD)),
  pad: { top: 7.7, right: 18.3, left: 0, bottom: 0 },
  xMin: -0.755, xMax: 15.51, yMin: -0.0431, yMax: 1.0508,
  xH: 28, yW: 46.7, xTickPad: -1, xTitlePad: 1.1, yTitlePad: 11.1
});

// ---------- text and legends ----------
label('A', 2, 10, 20);
label('B', 2, 386, 19);
label('C', 392, 386.5, 19);
label('D', 2, 680, 19);
label('Altered in 223 (96.96%) of 230 samples.', 200, 13.3, 10, { center: true, bold: true });
label('Altered in 237 (98.34%) of 241 samples.', 593, 15, 10, { center: true, bold: true });

// panel A legend
const legA1 = [['Missense_Mutation', 'M'], ['Nonsense_Mutation', 'N'], ['Frame_Shift_Del', 'D'], ['In_Frame_Del', 'F']];
const legA2 = [['Frame_Shift_Ins', 'I'], ['Nonstop_Mutation', 'S'], ['Multi_Hit', 'X']];
const legSq = [310.7, 326, 342.5, 359.5];
const legTx = [313.3, 328.3, 344, 361.7];
legA1.forEach(([s, t], i) => { box(70, legSq[i] - 3.5, 7, 7, typeColor[t]); label(s, 87.3, legTx[i], 9.4); });
legA2.forEach(([s, t], i) => { box(188.3, legSq[i] - 3.5, 7, 7, typeColor[t]); label(s, 204, legTx[i], 9.4); });
label('Risk', 293.3, 311.7, 9.4);
box(295, 322.5, 7, 7, '#e3281e'); label('high', 312.3, 327.5, 9.4);
box(295, 341.5, 7, 7, '#2b4ea3'); label('low', 312.3, 346.5, 9.4);

// panel B legend and p value
box(95, 392, 13.3, 13.3, violinBlue); label('Low-risk', 113.3, 400, 14);
box(199.5, 392, 13.3, 13.3, violinRed); label('High-risk', 218.3, 400, 14);
label('0.18', 199, 434.3, 9.4, { center: true });

// panel C legend
function key(x1, x2, y, color, cross, lw) {
  box(x1, y - lw / 2, x2 - x1, lw, color);
  box((x1 + x2) / 2 - lw / 2, y - cross / 2, lw, cross, color);
  box((x1 + x2) / 2 - cross / 2, y - lw / 2, cross, lw, color);
}
key(618.3, 640, 392, cRed, 10, 1.3); label('H-TMB', 653.3, 392, 13.5);
key(618.3, 640, 420, cBlue, 10, 1.3); label('L-TMB', 653.3, 420, 13.5);
label('p=0.013', 488.3, 573.3, 13.5);

// panel D legend
const legD = [['H-TMB+high risk', dRed], ['H-TMB+low risk', dBlue], ['L-TMB+high risk', dPurple], ['L-TMB+low risk', dGreen]];
const legDy = [733.3, 746, 759.3, 772.7];
legD.forEach(([s, col], i) => { key(236.7, 248.3, legDy[i], col, 6, 1.2); label(s, 252.7, legDy[i], 10.6); });
label('p<0.001', 79, 880.7, 10.5);
</script>
</body>
</html>
